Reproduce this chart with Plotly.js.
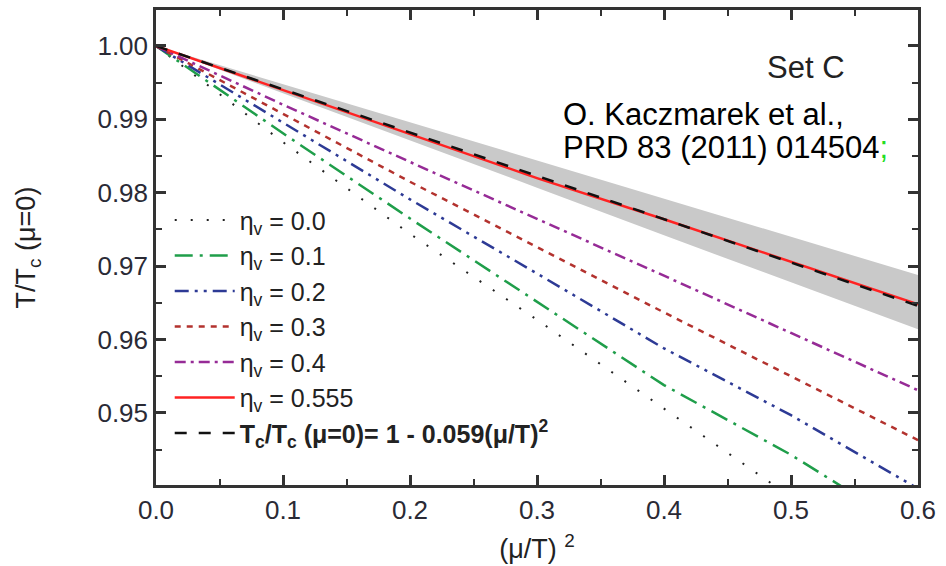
<!DOCTYPE html>
<html>
<head>
<meta charset="utf-8">
<script src="https://cdn.plot.ly/plotly-3.0.1.min.js"></script>
<style>html,body{margin:0;padding:0;background:#fff;}#chart{width:946px;height:566px;}</style>
</head>
<body>
<div id="chart"></div>
<script>
// x = (mu/T)^2
const muT2 = [0, 0.1, 0.2, 0.3, 0.4, 0.5, 0.6];
// T/Tc(mu=0) for each eta_v
const eta00  = [1.0, 0.9869, 0.9744, 0.9627, 0.9506, 0.9385, 0.9265];
const eta01  = [1.0, 0.9881, 0.9765, 0.9652, 0.9538, 0.9443, 0.9335];
const eta02  = [1.0, 0.9895, 0.9791, 0.9690, 0.9588, 0.9497, 0.9397];
const eta03  = [1.0, 0.9907, 0.9815, 0.9726, 0.9637, 0.9550, 0.9463];
const eta04  = [1.0, 0.9920, 0.9842, 0.9765, 0.9687, 0.9609, 0.9531];
const eta0555 = [1.0, 0.9940, 0.9881, 0.9820, 0.9764, 0.9706, 0.9648];
// lattice fit Tc/Tc(mu=0) = 1 - 0.059 (mu/T)^2
const latticeFit = [1.0, 0.9941, 0.9882, 0.9823, 0.9764, 0.9705, 0.9646];
// lattice uncertainty band (grey)
const bandUpper = [1.0, 0.9948, 0.9896, 0.9844, 0.9792, 0.9740, 0.9688];
const bandLower = [1.0, 0.9936, 0.9871, 0.9807, 0.9742, 0.9678, 0.9614];

const legendNames = [
  'η<sub>v</sub> = 0.0',
  'η<sub>v</sub> = 0.1',
  'η<sub>v</sub> = 0.2',
  'η<sub>v</sub> = 0.3',
  'η<sub>v</sub> = 0.4',
  'η<sub>v</sub> = 0.555',
  '<b>T<sub>c</sub>/T<sub>c</sub> (μ=0)= 1 - 0.059(μ/T)<sup>2</sup></b>'
];
const xTicks = [0, 0.1, 0.2, 0.3, 0.4, 0.5, 0.6];
const yTicks = [0.95, 0.96, 0.97, 0.98, 0.99, 1.00];

const FONT = 'Liberation Sans, Arial, Helvetica, sans-serif';

const data = [
  {x: muT2, y: bandLower, mode: 'lines', line: {width: 0, color: 'rgba(0,0,0,0)'}, showlegend: false, hoverinfo: 'skip'},
  {x: muT2, y: bandUpper, mode: 'lines', line: {width: 0, color: 'rgba(0,0,0,0)'}, fill: 'tonexty', fillcolor: '#c9c9c9', showlegend: false, hoverinfo: 'skip'},
  {x: muT2, y: eta00, mode: 'lines', name: legendNames[0], line: {color: '#222222', width: 2, dash: '2px,14px'}},
  {x: muT2, y: eta01, mode: 'lines', name: legendNames[1], line: {color: '#1f9e4a', width: 2.5, dash: '18px,7px,3px,7px'}},
  {x: muT2, y: eta02, mode: 'lines', name: legendNames[2], line: {color: '#2d3a95', width: 2.5, dash: '14px,6px,3px,6px,3px,6px'}},
  {x: muT2, y: eta03, mode: 'lines', name: legendNames[3], line: {color: '#b3322e', width: 2.5, dash: '6px,6px'}},
  {x: muT2, y: eta04, mode: 'lines', name: legendNames[4], line: {color: '#962b96', width: 2.5, dash: '11px,5px,3px,5px'}},
  {x: muT2, y: eta0555, mode: 'lines', name: legendNames[5], line: {color: '#ff2222', width: 2.5}},
  {x: muT2, y: latticeFit, mode: 'lines', name: legendNames[6], line: {color: '#111111', width: 2.5, dash: '12px,12px'}}
];

const layout = {
  width: 946, height: 566,
  margin: {l: 156, r: 28, t: 10, b: 81},
  paper_bgcolor: '#ffffff', plot_bgcolor: '#ffffff',
  font: {family: FONT, size: 24, color: '#222222'},
  showlegend: true,
  legend: {
    x: 0.018, y: 0.606, xanchor: 'left', yanchor: 'top',
    traceorder: 'normal',
    bgcolor: 'rgba(0,0,0,0)', borderwidth: 0,
    font: {family: FONT, size: 25, color: '#222222'},
    itemwidth: 60, tracegroupgap: 0
  },
  xaxis: {
    range: [0, 0.6],
    tickvals: xTicks, tickformat: '.1f',
    ticks: 'inside', ticklen: 10, tickwidth: 2.5, tickcolor: '#333333',
    minor: {ticks: 'inside', dtick: 0.05, ticklen: 6, tickwidth: 2, tickcolor: '#333333'},
    showline: true, linecolor: '#333333', linewidth: 2.5, mirror: 'ticks',
    showgrid: false, zeroline: false,
    tickfont: {family: FONT, size: 26, color: '#2a2a35'},
    title: {text: '(μ/T) <sup>2</sup>', font: {family: FONT, size: 27, color: '#222222'}, standoff: 16}
  },
  yaxis: {
    range: [0.94019, 1.0049],
    tickvals: yTicks, tickformat: '.2f',
    ticks: 'inside', ticklen: 10, tickwidth: 2.5, tickcolor: '#333333',
    minor: {ticks: 'inside', dtick: 0.005, ticklen: 6, tickwidth: 2, tickcolor: '#333333'},
    showline: true, linecolor: '#333333', linewidth: 2.5, mirror: 'ticks',
    showgrid: false, zeroline: false,
    tickfont: {family: FONT, size: 26, color: '#2a2a35'},
    title: {text: 'T/T<sub>c</sub> (μ=0)', font: {family: FONT, size: 27, color: '#222222'}, standoff: 54}
  },
  annotations: [
    {xref: 'paper', yref: 'paper', x: 0.853, y: 0.88, xanchor: 'center', yanchor: 'middle',
     text: 'Set C', showarrow: false, font: {family: FONT, size: 31, color: '#222222'}},
    {xref: 'paper', yref: 'paper', x: 0.532, y: 0.779, xanchor: 'left', yanchor: 'middle', align: 'left',
     text: 'O. Kaczmarek et al.,',
     showarrow: false, font: {family: FONT, size: 31, color: '#000000'}},
    {xref: 'paper', yref: 'paper', x: 0.532, y: 0.710, xanchor: 'left', yanchor: 'middle', align: 'left',
     text: 'PRD 83 (2011) 014504<span style="color:#22dd22">;</span>',
     showarrow: false, font: {family: FONT, size: 31, color: '#000000'}}
  ]
};

Plotly.newPlot('chart', data, layout, {displayModeBar: false});
</script>
</body>
</html>
